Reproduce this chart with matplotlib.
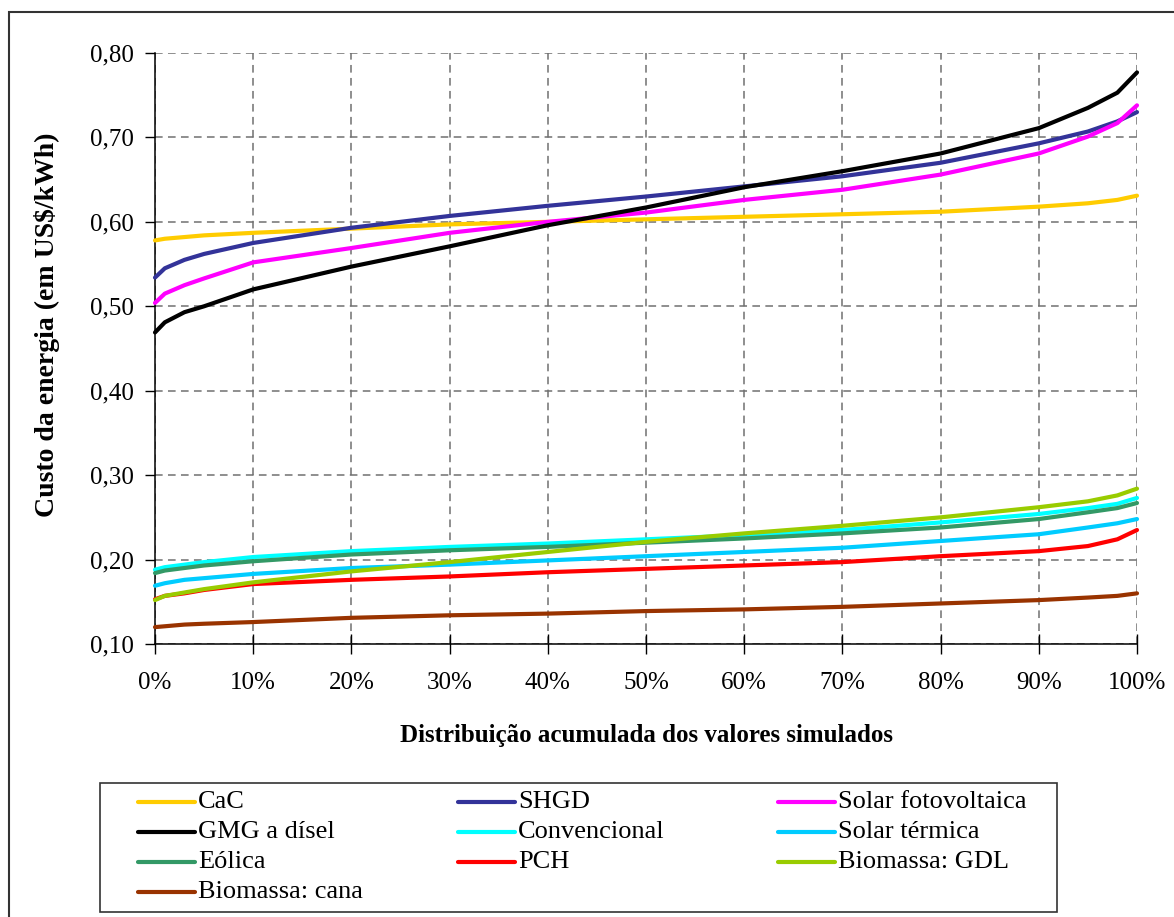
"""Curvas de custo da energia - distribuicao acumulada"""
import matplotlib
matplotlib.use("Agg")
import matplotlib.pyplot as plt
import matplotlib.patches as mpatches
from matplotlib.lines import Line2D
from matplotlib.ticker import FuncFormatter

plt.rcParams['font.family'] = ['Liberation Serif', 'DejaVu Serif']

# percentil (%) dos valores simulados
pct = [0, 1, 3, 5, 10, 20, 30, 40, 50, 60, 70, 80, 90, 95, 98, 100]

cac = [0.578, 0.580, 0.582, 0.584, 0.587, 0.592, 0.597, 0.600, 0.603, 0.606, 0.609, 0.612, 0.618, 0.622, 0.626, 0.631]
shgd = [0.534, 0.545, 0.555, 0.562, 0.575, 0.593, 0.607, 0.619, 0.630, 0.642, 0.654, 0.670, 0.693, 0.707, 0.719, 0.730]
solar_fv = [0.504, 0.515, 0.525, 0.533, 0.552, 0.569, 0.587, 0.600, 0.611, 0.626, 0.638, 0.656, 0.681, 0.701, 0.717, 0.738]
gmg_disel = [0.469, 0.481, 0.493, 0.500, 0.520, 0.547, 0.571, 0.596, 0.617, 0.641, 0.660, 0.681, 0.711, 0.735, 0.753, 0.777]
convencional = [0.188, 0.191, 0.194, 0.197, 0.203, 0.210, 0.215, 0.219, 0.224, 0.229, 0.235, 0.244, 0.254, 0.261, 0.266, 0.273]
solar_term = [0.169, 0.172, 0.176, 0.178, 0.183, 0.190, 0.194, 0.199, 0.204, 0.209, 0.214, 0.222, 0.230, 0.238, 0.243, 0.248]
eolica = [0.184, 0.187, 0.190, 0.193, 0.198, 0.206, 0.211, 0.215, 0.220, 0.225, 0.231, 0.238, 0.248, 0.256, 0.261, 0.267]
pch = [0.153, 0.157, 0.160, 0.164, 0.171, 0.176, 0.180, 0.185, 0.189, 0.193, 0.197, 0.204, 0.210, 0.216, 0.224, 0.235]
bio_gdl = [0.152, 0.157, 0.161, 0.165, 0.173, 0.186, 0.197, 0.209, 0.221, 0.231, 0.240, 0.250, 0.262, 0.269, 0.276, 0.284]
bio_cana = [0.120, 0.121, 0.123, 0.124, 0.126, 0.131, 0.134, 0.136, 0.139, 0.141, 0.144, 0.148, 0.152, 0.155, 0.157, 0.160]

names = ["CaC", "SHGD", "Solar fotovoltaica", "GMG a dísel", "Convencional",
         "Solar térmica", "Eólica", "PCH", "Biomassa: GDL", "Biomassa: cana"]
series = [cac, shgd, solar_fv, gmg_disel, convencional,
          solar_term, eolica, pch, bio_gdl, bio_cana]
colors = ["#FFCC00", "#333399", "#FF00FF", "#000000", "#00FFFF",
          "#00CCFF", "#339966", "#FF0000", "#99CC00", "#993300"]

x_ticks = list(range(0, 101, 10))
y_ticks = [0.10, 0.20, 0.30, 0.40, 0.50, 0.60, 0.70, 0.80]

W, H = 1174, 917
fig = plt.figure(figsize=(W / 100, H / 100), dpi=100)
ax = fig.add_axes([155 / W, 1 - 644 / H, (1137 - 155) / W, (644 - 53) / H])

# draw the lines
for k in range(len(series)):
    ax.plot(pct, series[k], color=colors[k], lw=3.0, zorder=3,
            solid_capstyle='round', clip_on=False)

ax.set_xlim(0, 100)
ax.set_ylim(0.10, 0.80)
ax.set_xticks(x_ticks)
ax.set_yticks(y_ticks)
ax.xaxis.set_major_formatter(FuncFormatter(lambda v, p: "%d%%" % v))
ax.yaxis.set_major_formatter(FuncFormatter(lambda v, p: ("%.2f" % v).replace('.', ',')))
ax.tick_params(axis='x', direction='inout', length=14, width=1, labelsize=18, pad=13)
ax.tick_params(axis='y', direction='out', length=7, width=1, labelsize=18, pad=8)

ax.grid(True, color='#707070', linestyle=(0, (5, 3.5)), linewidth=1.1, zorder=1)
ax.spines['top'].set_visible(False)
ax.spines['right'].set_visible(False)
ax.spines['left'].set_linewidth(1.1)
ax.spines['bottom'].set_linewidth(1.1)
ax.set_axisbelow(True)

ax.set_ylabel("Custo da energia (em US$/kWh)", fontsize=20, fontweight='bold')
ax.yaxis.set_label_coords(-0.097, 0.54)
ax.set_xlabel("Distribuição acumulada dos valores simulados", fontsize=18,
              fontweight='bold', labelpad=22)

# outer chart border
fig.add_artist(mpatches.Rectangle((9 / W, -0.02), 1.2, 1 - 12 / H + 0.02,
                                  transform=fig.transFigure, fill=False,
                                  edgecolor='#333333', lw=1.5))

# legend box (excel style, fixed column widths)
fig.add_artist(mpatches.Rectangle((100 / W, 1 - 912 / H), (1057 - 100) / W, (912 - 783) / H,
                                  transform=fig.transFigure, fill=False,
                                  edgecolor='#333333', lw=1.2))
for i, name in enumerate(names):
    col = i % 3
    row = i // 3
    x0 = 138 + col * 320
    y0 = 802 + row * 30
    fig.add_artist(Line2D([x0 / W, (x0 + 57) / W], [1 - y0 / H, 1 - y0 / H],
                          transform=fig.transFigure, color=colors[i], lw=3,
                          solid_capstyle='round'))
    fig.text((x0 + 60) / W, 1 - y0 / H, name, fontsize=19, va='center', ha='left')

fig.savefig("out.png", dpi=100)
